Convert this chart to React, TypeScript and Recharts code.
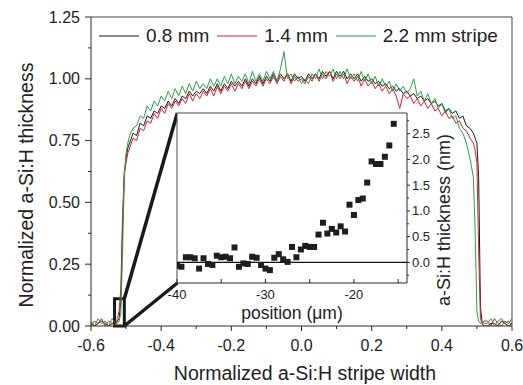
import React from "react";
import {
  LineChart,
  Line,
  XAxis,
  YAxis,
  Legend,
  ReferenceLine,
  ReferenceArea,
  ScatterChart,
  Scatter,
  CartesianGrid,
} from "recharts";

const FONT = "'Liberation Sans', Arial, Helvetica, sans-serif";

// Normalized stripe position (x)
const positions = [
  -0.6, -0.59, -0.58, -0.57, -0.56, -0.55, -0.54, -0.53,
  -0.525, -0.52, -0.515, -0.51, -0.505, -0.5, -0.495,
  -0.49, -0.48, -0.47, -0.46, -0.45, -0.44, -0.43, -0.42, -0.41, -0.4,
  -0.39, -0.38, -0.37, -0.36, -0.35, -0.34, -0.33, -0.32, -0.31, -0.3,
  -0.29, -0.28, -0.27, -0.26, -0.25, -0.24, -0.23, -0.22, -0.21, -0.2,
  -0.19, -0.18, -0.17, -0.16, -0.15, -0.14, -0.13, -0.12, -0.11, -0.1,
  -0.09, -0.08, -0.07, -0.06, -0.05, -0.04, -0.03, -0.02, -0.01, 0,
  0.01, 0.02, 0.03, 0.04, 0.05, 0.06, 0.07, 0.08, 0.09, 0.1,
  0.11, 0.12, 0.13, 0.14, 0.15, 0.16, 0.17, 0.18, 0.19, 0.2,
  0.21, 0.22, 0.23, 0.24, 0.25, 0.26, 0.27, 0.28, 0.29, 0.3,
  0.31, 0.32, 0.33, 0.34, 0.35, 0.36, 0.37, 0.38, 0.39, 0.4,
  0.41, 0.42, 0.43, 0.44, 0.45, 0.46, 0.47, 0.48, 0.49,
  0.495, 0.5, 0.505, 0.51, 0.515, 0.52,
  0.53, 0.54, 0.55, 0.56, 0.57, 0.58, 0.59, 0.6,
];

// 0.8 mm stripe (black)
const stripe08 = [
  0.01, 0.0, 0.01, 0.02, 0.01, 0.0, 0.01, 0.01,
  0.02, 0.03, 0.1, 0.4, 0.62, 0.68, 0.72,
  0.74, 0.78, 0.77, 0.82, 0.81, 0.85, 0.84, 0.87, 0.86, 0.89,
  0.88, 0.91, 0.89, 0.92, 0.9, 0.93, 0.92, 0.95, 0.93, 0.95,
  0.94, 0.96, 0.94, 0.97, 0.95, 0.98, 0.95, 0.98, 0.96, 0.99,
  0.97, 0.99, 0.97, 1.0, 0.97, 1.0, 0.98, 1.01, 0.98, 1.01,
  0.99, 1.02, 0.99, 1.02, 1.0, 1.02, 0.99, 1.02, 1.0, 1.01,
  0.99, 1.02, 1.0, 1.02, 1.0, 1.03, 1.01, 1.03, 1.0, 1.03,
  1.01, 1.03, 1.0, 1.02, 1.0, 1.02, 0.99, 1.01, 0.99, 1.0,
  0.98, 0.99, 0.97, 0.98, 0.96, 0.97, 0.95, 0.96, 0.94, 0.95,
  0.93, 0.94, 0.92, 0.93, 0.91, 0.92, 0.9, 0.91, 0.89, 0.9,
  0.87, 0.88, 0.86, 0.87, 0.84, 0.85, 0.81, 0.8, 0.78,
  0.76, 0.74, 0.6, 0.08, 0.01, 0.0,
  0.0, 0.01, 0.01, 0.0, 0.02, 0.01, 0.0, 0.01,
];

// 1.4 mm stripe (red)
const stripe14 = [
  0.0, 0.02, 0.01, 0.03, 0.0, 0.02, 0.01, 0.0,
  0.03, 0.06, 0.15, 0.45, 0.62, 0.66, 0.7,
  0.72, 0.76, 0.75, 0.8, 0.79, 0.83, 0.82, 0.86, 0.84, 0.88,
  0.86, 0.9, 0.88, 0.91, 0.89, 0.92, 0.9, 0.94, 0.91, 0.94,
  0.92, 0.95, 0.93, 0.96, 0.93, 0.97, 0.94, 0.97, 0.95, 0.98,
  0.95, 0.98, 0.96, 0.99, 0.96, 0.99, 0.97, 1.0, 0.97, 1.0,
  0.98, 1.01, 0.98, 1.01, 0.99, 1.02, 0.98, 1.01, 0.99, 1.0,
  0.98, 1.01, 0.99, 1.02, 0.99, 1.02, 1.0, 1.03, 0.99, 1.02,
  1.0, 1.02, 0.98, 1.01, 0.99, 1.01, 0.97, 1.0, 0.97, 0.99,
  0.96, 0.98, 0.95, 0.97, 0.94, 0.96, 0.93, 0.88, 0.94, 0.92,
  0.93, 0.9, 0.92, 0.89, 0.91, 0.88, 0.9, 0.87, 0.88, 0.85,
  0.87, 0.84, 0.85, 0.82, 0.83, 0.8, 0.79, 0.76, 0.74,
  0.71, 0.66, 0.3, 0.03, 0.01, 0.02,
  0.02, 0.0, 0.03, 0.01, 0.0, 0.02, 0.01, 0.03,
];

// 2.2 mm stripe (green)
const stripe22 = [
  0.02, 0.0, 0.03, 0.01, 0.02, 0.0, 0.03, 0.01,
  0.01, 0.02, 0.05, 0.3, 0.6, 0.7, 0.74,
  0.77, 0.8, 0.81, 0.85, 0.84, 0.89, 0.87, 0.91, 0.89, 0.93,
  0.91, 0.95, 0.92, 0.96, 0.93, 0.97, 0.94, 0.98, 0.95, 0.99,
  0.96, 0.98, 0.96, 1.0, 0.97, 1.0, 0.97, 1.01, 0.98, 1.02,
  0.98, 1.01, 0.99, 1.02, 0.98, 1.03, 0.99, 1.02, 0.99, 1.03,
  1.0, 1.03, 0.99, 1.04, 1.11, 1.0, 1.02, 0.99, 1.01, 0.98,
  1.0, 0.98, 1.02, 1.0, 1.04, 1.0, 1.03, 1.01, 1.04, 1.0,
  1.03, 1.0, 1.04, 1.0, 1.02, 0.99, 1.03, 0.99, 1.02, 0.98,
  1.01, 0.97, 1.0, 0.97, 0.99, 0.95, 0.98, 0.95, 0.97, 0.94,
  0.96, 1.0, 0.93, 0.95, 0.91, 0.94, 0.9, 0.92, 0.88, 0.9,
  0.86, 0.88, 0.84, 0.85, 0.8, 0.78, 0.74, 0.68, 0.6,
  0.38, 0.06, 0.02, 0.01, 0.02, 0.01,
  0.01, 0.03, 0.0, 0.02, 0.03, 0.01, 0.02, 0.0,
];

const seriesNames = ["0.8 mm", "1.4 mm", "2.2 mm stripe"];
const seriesColors = ["#1a1a1a", "#d5232f", "#2c9f4b"];

const xTicks = [-0.6, -0.5, -0.4, -0.3, -0.2, -0.1, 0, 0.1, 0.2, 0.3, 0.4, 0.5, 0.6];
const yTicks = [0, 0.125, 0.25, 0.375, 0.5, 0.625, 0.75, 0.875, 1, 1.125, 1.25];

// Zoom box on the main plot and where its lines meet the inset
const zoomBox = { x1: -0.533, x2: -0.505, y1: 0, y2: 0.11 };
const insetCornerTop = { x: -0.354, y: 0.862 };
const insetCornerBottom = { x: -0.354, y: 0.174 };

// Inset: position (um) vs a-Si:H thickness (nm)
const insetPositions = [
  -40, -39.5, -39, -38.5, -38, -37.5, -37, -36.5, -36, -35.5,
  -35, -34.5, -34, -33.5, -33, -32.5, -32, -31.5, -31, -30.5,
  -30, -29.5, -29, -28.5, -28, -27.5, -27, -26.5, -26, -25.5,
  -25, -24.5, -24, -23.5, -23, -22.5, -22, -21.5, -21, -20.5,
  -20, -19.5, -19, -18.5, -18, -17.5, -17, -16.5, -16, -15.5,
];
const insetThickness = [
  -0.065, -0.085, 0.1, 0.1, 0.08, -0.12, 0.08, -0.03, -0.05, 0.13,
  0.1, 0.11, 0.08, 0.29, -0.085, -0.02, -0.03, 0.11, 0.09, -0.05,
  -0.12, -0.15, 0.09, 0.16, 0.06, 0.01, 0.3, 0.1, 0.25, 0.32,
  0.3, 0.3, 0.54, 0.77, 0.56, 0.65, 0.58, 0.7, 0.6, 1.12,
  0.92, 1.21, 1.24, 1.55, 1.96, 1.91, 1.91, 2.05, 2.27, 2.69,
];
const insetXTicks = [-40, -35, -30, -25, -20, -15];
const insetYTicks = [-0.25, 0, 0.25, 0.5, 0.75, 1, 1.25, 1.5, 1.75, 2, 2.25, 2.5, 2.75];

const mainData = positions.map((x, i) => ({
  x,
  s08: stripe08[i],
  s14: stripe14[i],
  s22: stripe22[i],
}));
const insetData = insetPositions.map((x, i) => ({ x, y: insetThickness[i] }));

const AXIS = "#2a2a2a";
const FRAME = "#444";

const MainXTick = (props: any) => {
  const { x, y, payload } = props;
  const major = Math.round(payload.value * 10) % 2 === 0;
  return (
    <g>
      <line x1={x} x2={x} y1={y} y2={y + (major ? 5 : 3)} stroke={AXIS} strokeWidth={1} />
      {major && (
        <text x={x} y={y + 25} textAnchor="middle" fontSize={16} fontFamily={FONT} fill="#222">
          {payload.value.toFixed(1)}
        </text>
      )}
    </g>
  );
};

const MainYTick = (props: any) => {
  const { x, y, payload } = props;
  const major = Math.round(payload.value * 1000) % 250 === 0;
  return (
    <g>
      <line x1={x - (major ? 6 : 3)} x2={x} y1={y} y2={y} stroke={AXIS} strokeWidth={1} />
      {major && (
        <text x={x - 11} y={y} textAnchor="end" dominantBaseline="central" fontSize={16} fontFamily={FONT} fill="#222">
          {payload.value.toFixed(2)}
        </text>
      )}
    </g>
  );
};

const InsetXTick = (props: any) => {
  const { x, y, payload } = props;
  const major = Math.round(payload.value) % 10 === 0;
  return (
    <g>
      <line x1={x} x2={x} y1={y} y2={y - 4} stroke={AXIS} strokeWidth={1} />
      {major && (
        <text x={x} y={y + 15.5} textAnchor="middle" fontSize={13} fontFamily={FONT} fill="#222">
          {payload.value}
        </text>
      )}
    </g>
  );
};

const InsetYTick = (props: any) => {
  const { x, y, payload } = props;
  const major = Math.round(payload.value * 100) % 50 === 0;
  return (
    <g>
      <line x1={x} x2={x + (major ? 3 : 2)} y1={y} y2={y} stroke={AXIS} strokeWidth={1} />
      {major && (
        <text x={x + 5} y={y} textAnchor="start" dominantBaseline="central" fontSize={13} fontFamily={FONT} fill="#222">
          {payload.value.toFixed(1)}
        </text>
      )}
    </g>
  );
};

const LegendContent = (props: any) => {
  const payload = props.payload || [];
  return (
    <div style={{ display: "flex", alignItems: "center", fontFamily: FONT, fontSize: 19, color: "#222", whiteSpace: "nowrap" }}>
      {payload.map((p: any, i: number) => (
        <div key={i} style={{ display: "flex", alignItems: "center", marginRight: 8 }}>
          <svg width={40} height={4} style={{ display: "block", marginRight: 7 }}>
            <line x1={0} x2={40} y1={2} y2={2} stroke={p.color} strokeWidth={1.2} />
          </svg>
          <span>{p.value}</span>
        </div>
      ))}
    </div>
  );
};

const square = (props: any) => {
  const { cx, cy } = props;
  return <rect x={cx - 3} y={cy - 3} width={6} height={6} fill="#1e1e1e" />;
};

export default function App() {
  return (
    <div style={{ position: "fixed", left: 0, top: 0, width: 523, height: 385, fontFamily: FONT, background: "#fff" }}>
      <LineChart width={523} height={385} data={mainData} margin={{ top: 17, right: 11, bottom: 0, left: 0 }}>
        <XAxis
          dataKey="x"
          type="number"
          domain={[-0.6, 0.6]}
          ticks={xTicks}
          allowDataOverflow
          height={59}
          tickSize={0}
          tickMargin={0}
          tickLine={false}
          tick={<MainXTick />}
          axisLine={{ stroke: AXIS, strokeWidth: 1 }}
          interval={0}
          label={{
            content: () => (
              <text x={305} y={379.5} textAnchor="middle" fontSize={19.5} fontFamily={FONT} fill="#222">
                Normalized a-Si:H stripe width
              </text>
            ),
          }}
        />
        <YAxis
          type="number"
          domain={[0, 1.25]}
          ticks={yTicks}
          allowDataOverflow
          width={91}
          tickSize={0}
          tickMargin={0}
          tickLine={false}
          tick={<MainYTick />}
          axisLine={{ stroke: AXIS, strokeWidth: 1 }}
          interval={0}
          label={{
            content: () => (
              <text x={33} y={185} textAnchor="middle" transform="rotate(-90 33 185)" fontSize={19.5} fontFamily={FONT} fill="#222">
                Normalized a-Si:H thickness
              </text>
            ),
          }}
        />
        <ReferenceLine y={1.25} stroke={FRAME} strokeWidth={1} />
        <ReferenceLine x={0.6} stroke={FRAME} strokeWidth={1} />
        <Line type="linear" dataKey="s08" name={seriesNames[0]} stroke={seriesColors[0]} strokeWidth={1} dot={false} isAnimationActive={false} />
        <Line type="linear" dataKey="s14" name={seriesNames[1]} stroke={seriesColors[1]} strokeWidth={1} dot={false} isAnimationActive={false} />
        <Line type="linear" dataKey="s22" name={seriesNames[2]} stroke={seriesColors[2]} strokeWidth={1} dot={false} isAnimationActive={false} />
        <ReferenceArea
          x1={zoomBox.x1}
          x2={zoomBox.x2}
          y1={zoomBox.y1}
          y2={zoomBox.y2}
          fill="none"
          fillOpacity={0}
          stroke="#1a1a1a"
          strokeWidth={3}
        />
        <ReferenceLine
          segment={[{ x: zoomBox.x2, y: zoomBox.y2 }, insetCornerTop]}
          stroke="#1a1a1a"
          strokeWidth={3.5}
        />
        <ReferenceLine
          segment={[{ x: zoomBox.x2, y: zoomBox.y1 }, insetCornerBottom]}
          stroke="#1a1a1a"
          strokeWidth={3.5}
        />
        <Legend
          layout="horizontal"
          verticalAlign="middle"
          align="center"
          content={<LegendContent />}
          wrapperStyle={{ position: "absolute", top: 25, left: 99, width: "auto", height: "auto" }}
        />
      </LineChart>

      <div style={{ position: "absolute", left: 0, top: 0 }}>
        <ScatterChart width={523} height={385} margin={{ top: 113, left: 177, right: 76, bottom: 62 }}>
          <CartesianGrid horizontal={false} vertical={false} fill="#ffffff" fillOpacity={1} stroke="none" />
          <XAxis
            dataKey="x"
            type="number"
            domain={[-40, -14]}
            ticks={insetXTicks}
            allowDataOverflow
            height={40}
            tickSize={0}
            tickMargin={0}
            tickLine={false}
            tick={<InsetXTick />}
            axisLine={{ stroke: AXIS, strokeWidth: 1 }}
            interval={0}
            label={{
              content: () => (
                <text x={292} y={318.5} textAnchor="middle" fontSize={17.5} fontFamily={FONT} fill="#222">
                  position (μm)
                </text>
              ),
            }}
          />
          <YAxis
            dataKey="y"
            type="number"
            orientation="right"
            domain={[-0.4, 2.9]}
            ticks={insetYTicks}
            allowDataOverflow
            width={40}
            tickSize={0}
            tickMargin={0}
            tickLine={false}
            tick={<InsetYTick />}
            axisLine={{ stroke: AXIS, strokeWidth: 1 }}
            interval={0}
            label={{
              content: () => (
                <text x={450} y={220} textAnchor="middle" transform="rotate(-90 450 220)" fontSize={18} fontFamily={FONT} fill="#222">
                  a-Si:H thickness (nm)
                </text>
              ),
            }}
          />
          <ReferenceLine x={-40} stroke={FRAME} strokeWidth={1} />
          <ReferenceLine y={2.9} stroke={FRAME} strokeWidth={1} />
          <ReferenceLine y={0} stroke="#111" strokeWidth={1.2} />
          <Scatter data={insetData} shape={square} isAnimationActive={false} />
        </ScatterChart>
      </div>
    </div>
  );
}
